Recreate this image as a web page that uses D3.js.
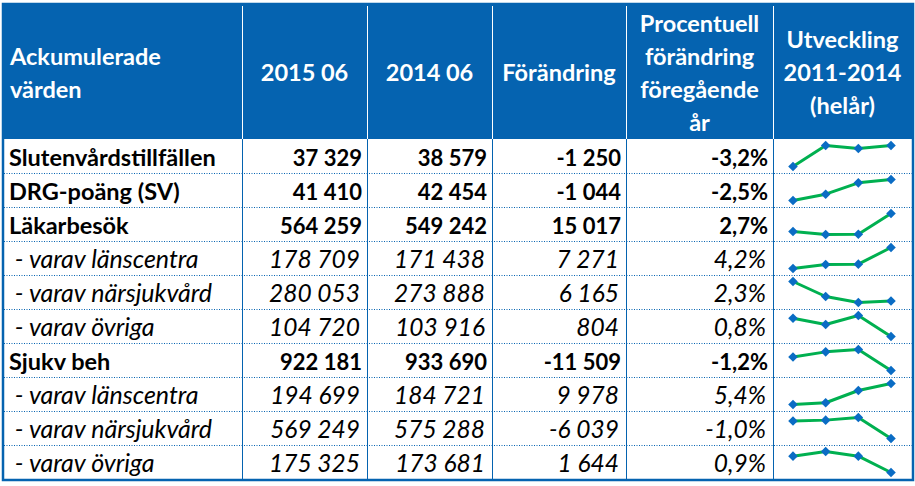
<!DOCTYPE html>
<html lang="sv">
  <head>
    <meta charset="UTF-8" />
    <title>Ackumulerade värden</title>
    <script src="https://cdn.jsdelivr.net/npm/d3@7"></script>
    <style>
      body { margin: 0; background: #fff; }
      svg text { font-family: Lato, "Open Sans", sans-serif; }
    </style>
  </head>
  <body>
    <script>
      var headers = [
        ["Ackumulerade", "värden"],
        ["2015 06"],
        ["2014 06"],
        ["Förändring"],
        ["Procentuell", "förändring", "föregående", "år"],
        ["Utveckling", "2011-2014", "(helår)"]
      ];
      var labels = [
        "Slutenvårdstillfällen", "DRG-poäng (SV)", "Läkarbesök",
        " - varav länscentra", " - varav närsjukvård", " - varav övriga",
        "Sjukv beh",
        " - varav länscentra", " - varav närsjukvård", " - varav övriga"
      ];
      var boldRow = [true, true, true, false, false, false, true, false, false, false];
      var v2015 = [37329, 41410, 564259, 178709, 280053, 104720, 922181, 194699, 569249, 175325];
      var v2014 = [38579, 42454, 549242, 171438, 273888, 103916, 933690, 184721, 575288, 173681];
      var change = [-1250, -1044, 15017, 7271, 6165, 804, -11509, 9978, -6039, 1644];
      var pctChange = [-3.2, -2.5, 2.7, 4.2, 2.3, 0.8, -1.2, 5.4, -1.0, 0.9];
      var years = [2011, 2012, 2013, 2014];
      // full-year values 2011-2014 (estimated from the sparklines)
      var trend = [
        [74000, 77500, 77000, 77500],
        [80000, 81500, 84200, 85000],
        [1061000, 1056000, 1056500, 1091000],
        [330000, 333000, 333300, 346000],
        [560000, 550000, 546000, 547000],
        [205000, 202000, 206300, 196300],
        [1870000, 1885000, 1892000, 1830000],
        [360000, 361000, 368000, 372000],
        [1150000, 1151000, 1154000, 1130000],
        [360000, 364000, 360000, 346000]
      ];

      var W = 915, H = 486;
      var blue = "#0563B0", green = "#00B050", mark = "#0A6CC4";
      var colEdges = [4, 242, 367, 492, 626, 773, 912];
      var headTop = 4, headBot = 139, tableBot = 479;
      var fs = 23.5, fsNum = 22, fsIt = 25, fsItNum = 24.5;

      var sv = d3.formatLocale({ decimal: ",", thousands: " ", grouping: [3], currency: ["", ""], minus: "-" });
      var fInt = sv.format(",d");
      var fPct = function (d) { return sv.format(".1f")(d) + "%"; };

      var svg = d3.select("body").append("svg").attr("width", W).attr("height", H);

      var y = d3.scaleBand().domain(d3.range(labels.length)).range([headBot, tableBot]);

      // header
      svg.append("rect")
        .attr("x", colEdges[0]).attr("y", headTop)
        .attr("width", colEdges[6] - colEdges[0]).attr("height", headBot - headTop)
        .attr("fill", blue);

      svg.selectAll(".hsep").data(colEdges.slice(1, 6)).enter()
        .append("line")
        .attr("x1", function (d) { return d + 0.5; })
        .attr("x2", function (d) { return d + 0.5; })
        .attr("y1", headTop + 2).attr("y2", headBot)
        .attr("stroke", "#fff").attr("stroke-width", 1);

      var lh = 33, hMid = (headTop + headBot) / 2;
      headers.forEach(function (lines, c) {
        var t = svg.append("text")
          .attr("fill", "#fff").attr("font-weight", "bold").attr("font-size", fs)
          .attr("text-anchor", c === 0 ? "start" : "middle");
        var x = c === 0 ? colEdges[0] + 6 : (colEdges[c] + colEdges[c + 1]) / 2;
        lines.forEach(function (s, i) {
          t.append("tspan")
            .attr("x", x)
            .attr("y", hMid + (i - (lines.length - 1) / 2) * lh + 9.5)
            .text(s);
        });
      });

      // body grid
      svg.selectAll(".rsep").data(d3.range(1, labels.length)).enter()
        .append("line")
        .attr("x1", colEdges[0]).attr("x2", colEdges[6])
        .attr("y1", function (d) { return y(d) + 0.5; })
        .attr("y2", function (d) { return y(d) + 0.5; })
        .attr("stroke", blue).attr("stroke-width", 1).attr("stroke-dasharray", "1,1.5");

      svg.selectAll(".csep").data(colEdges.slice(1, 6)).enter()
        .append("line")
        .attr("x1", function (d) { return d + 0.5; })
        .attr("x2", function (d) { return d + 0.5; })
        .attr("y1", headBot).attr("y2", tableBot)
        .attr("stroke", blue).attr("stroke-width", 1);

      svg.append("rect")
        .attr("x", colEdges[0] - 1).attr("y", headTop)
        .attr("width", colEdges[6] - colEdges[0] + 2).attr("height", tableBot - headTop + 1)
        .attr("fill", "none").attr("stroke", blue).attr("stroke-width", 2.5);

      // body text
      var rows = svg.selectAll(".row").data(labels).enter()
        .append("g")
        .attr("transform", function (d, i) { return "translate(0," + (y(i) + y.bandwidth() / 2 + 9.5) + ")"; })
        .attr("font-weight", function (d, i) { return boldRow[i] ? "bold" : "normal"; })
        .attr("font-style", function (d, i) { return boldRow[i] ? "normal" : "italic"; });

      rows.append("text")
        .attr("x", colEdges[0] + 5)
        .attr("font-size", function (d, i) { return boldRow[i] ? fs : fsIt; })
        .attr("xml:space", "preserve")
        .text(function (d) { return d; });

      var cols = [
        { vals: v2015, f: fInt },
        { vals: v2014, f: fInt },
        { vals: change, f: fInt },
        { vals: pctChange, f: fPct }
      ];
      cols.forEach(function (col, k) {
        rows.append("text")
          .attr("x", function (d, i) { return colEdges[k + 2] - (boldRow[i] ? 5 : 7); })
          .attr("font-size", function (d, i) { return boldRow[i] ? fsNum : fsItNum; })
          .attr("text-anchor", "end")
          .text(function (d, i) { return col.f(col.vals[i]); });
      });

      // sparklines
      var xs = d3.scalePoint().domain(years).range([colEdges[5] + 20, colEdges[6] - 21]);
      trend.forEach(function (vals, i) {
        var ys = d3.scaleLinear().domain(d3.extent(vals))
          .range([y(i) + y.bandwidth() - 6.5, y(i) + 6.5]);
        var g = svg.append("g");
        g.append("path")
          .datum(vals)
          .attr("fill", "none").attr("stroke", green).attr("stroke-width", 3)
          .attr("stroke-linejoin", "round")
          .attr("d", d3.line().x(function (d, j) { return xs(years[j]); }).y(ys));
        g.selectAll("path.m").data(vals).enter()
          .append("path").attr("class", "m")
          .attr("d", d3.symbol(d3.symbolSquare, 46)())
          .attr("fill", mark)
          .attr("transform", function (d, j) { return "translate(" + xs(years[j]) + "," + ys(d) + ") rotate(45)"; });
      });
    </script>
  </body>
</html>
